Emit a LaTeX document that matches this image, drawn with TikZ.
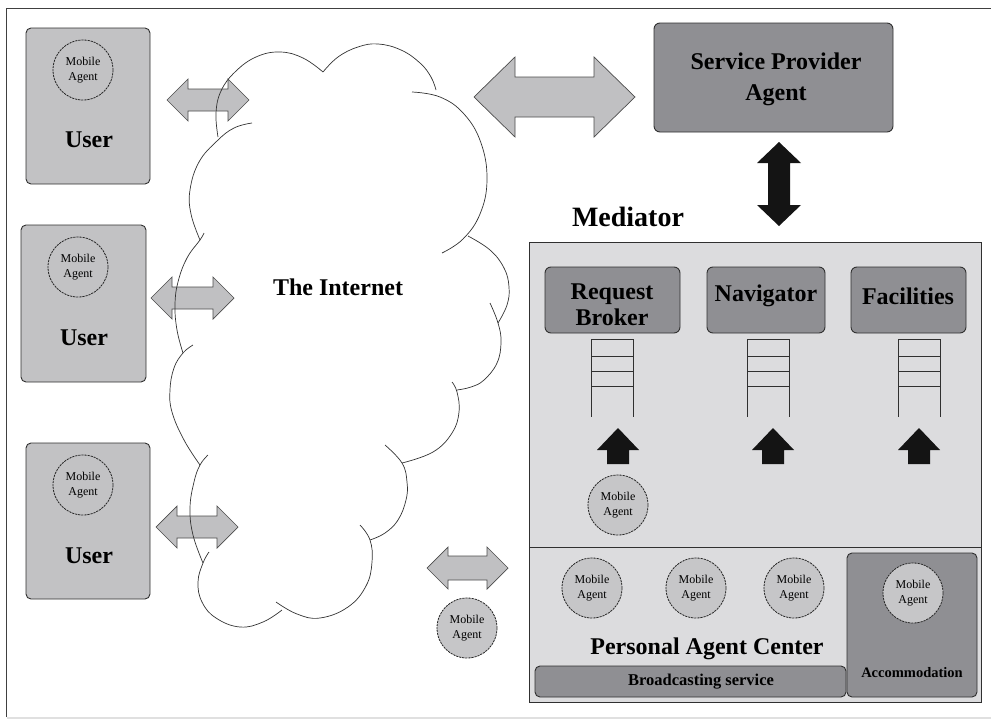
\documentclass[tikz,border=0pt]{standalone}
\usepackage{fontspec}
\setmainfont{Liberation Serif}
\definecolor{usergray}{HTML}{C2C2C4}
\definecolor{darkbox}{HTML}{8F8F93}
\definecolor{medbg}{HTML}{DCDCDE}
\definecolor{agentfill}{HTML}{C6C6C8}
\definecolor{arrowgray}{HTML}{C0C0C2}
\definecolor{lineclr}{HTML}{303030}
\newcommand{\HDArrow}[7]{%
 \draw[#1] (#2,#4) -- (#2+#5,#4-#6) -- (#2+#5,#4-#7) -- (#3-#5,#4-#7) -- (#3-#5,#4-#6) -- (#3,#4)
  -- (#3-#5,#4+#6) -- (#3-#5,#4+#7) -- (#2+#5,#4+#7) -- (#2+#5,#4+#6) -- cycle;}
\newcommand{\VDArrow}[7]{%
 \draw[#1] (#2,#3) -- (#2+#6,#3+#5) -- (#2+#7,#3+#5) -- (#2+#7,#4-#5) -- (#2+#6,#4-#5) -- (#2,#4)
  -- (#2-#6,#4-#5) -- (#2-#7,#4-#5) -- (#2-#7,#3+#5) -- (#2-#6,#3+#5) -- cycle;}
\newcommand{\UpArrow}[6]{%
 \fill[black!92] (#1,#2) -- (#1+#5,#3) -- (#1+#6,#3) -- (#1+#6,#4) -- (#1-#6,#4) -- (#1-#6,#3) -- (#1-#5,#3) -- cycle;}
\newcommand{\Ladder}[2]{%
 \draw[lineclr, line width=0.9pt] (#1,339) -- (#1,417) (#2,339) -- (#2,417)
  (#1,339) -- (#2,339) (#1,356) -- (#2,356) (#1,371) -- (#2,371) (#1,386) -- (#2,386);}
\tikzset{
 every node/.style={inner sep=0pt, outer sep=0pt},
 userbox/.style={draw=lineclr, line width=0.9pt, rounded corners=5pt, fill=usergray},
 darkboxst/.style={draw=lineclr, line width=0.9pt, rounded corners=6pt, fill=darkbox},
 magent/.style={circle, draw=black!85, dash pattern=on 2.2pt off 0.9pt, line width=0.8pt,
   minimum size=60pt, fill=agentfill, align=center, font=\fontsize{12}{15.5}\selectfont},
 biglabel/.style={font=\fontsize{24}{31}\selectfont\bfseries, align=center},
 grayarrow/.style={draw=black!70, line width=0.7pt, fill=arrowgray},
 blackarrow/.style={fill=black!92, draw=none},
 cloudline/.style={draw=black!80, line width=0.7pt},
}
\begin{document}
\begin{tikzpicture}[x=1pt,y=-1pt]
\useasboundingbox (0,0) rectangle (991,720);
% frame
\draw[black!75, line width=1pt] (6,717) -- (6,8) -- (991,8);
\draw[black!12, line width=2pt] (7,718) -- (991,718);

% users
\node[userbox, minimum width=124pt, minimum height=156pt] (user1) at (88,106) {};
\node[userbox, minimum width=125pt, minimum height=157pt] (user2) at (83.5,303.5) {};
\node[userbox, minimum width=124pt, minimum height=156pt] (user3) at (88,521) {};
\node[magent, fill=usergray] (ma1) at (83,70) {Mobile\\Agent};
\node[magent, fill=usergray] (ma2) at (78,267) {Mobile\\Agent};
\node[magent, fill=usergray] (ma3) at (83,485) {Mobile\\Agent};
\node[biglabel] (ut1) at (89,140) {User};
\node[biglabel] (ut2) at (84,338) {User};
\node[biglabel] (ut3) at (89,556) {User};

% gray double arrows
\HDArrow{grayarrow}{167}{249}{100}{21}{21}{11}
\HDArrow{grayarrow}{151}{234}{298}{21}{21}{11}
\HDArrow{grayarrow}{156}{238}{527}{21}{21}{11}
\HDArrow{grayarrow}{427}{508}{568}{21}{21}{12}
\HDArrow{grayarrow}{474}{635}{97}{41}{40}{20}

% cloud
\draw[cloudline] plot[smooth, tension=0.7] coordinates {(218,137) (216,113) (221,91) (235,72) (256,57) (280,52) (303,58) (323,72)};
\draw[cloudline] plot[smooth, tension=0.7] coordinates {(323,72) (338,57) (358,47) (378,44) (401,50) (420,63) (431,77) (436,90)};
\draw[cloudline] plot[smooth, tension=0.7] coordinates {(412,92) (440,97) (464,114) (481,143) (487,180) (480,214) (463,239) (442,253)};
\draw[cloudline] plot[smooth, tension=0.7] coordinates {(468,236) (490,250) (504,268) (509,287) (507,305) (498,323)};
\draw[cloudline] plot[smooth, tension=0.7] coordinates {(490,303) (498,323) (501,342) (497,363) (484,380) (471,387) (457,390)};
\draw[cloudline] plot[smooth, tension=0.7] coordinates {(452,382) (457,392) (459,412) (452,433) (433,452) (402,463)};
\draw[cloudline] plot[smooth, tension=0.7] coordinates {(385,445) (402,463) (407,482) (406,500) (398,520) (385,533) (370,540)};
\draw[cloudline] plot[smooth, tension=0.7] coordinates {(360,525) (370,540) (372,562) (366,586) (348,607) (320,618) (297,614) (276,602)};
\draw[cloudline] plot[smooth, tension=0.7] coordinates {(209,552) (203,563) (198,582) (202,602) (216,618) (240,627) (263,622) (282,610)};
\draw[cloudline] plot[smooth, tension=0.7] coordinates {(203,563) (193,535) (190,508) (194,482) (200,465) (208,455)};
\draw[cloudline] plot[smooth, tension=0.7] coordinates {(200,465) (184,440) (172,412) (170,390) (174,368) (183,353) (193,345)};
\draw[cloudline] plot[smooth, tension=0.7] coordinates {(183,353) (177,330) (175,305) (178,282) (187,258) (200,240) (204,233)};
\draw[cloudline] plot[smooth, tension=0.7] coordinates {(200,240) (191,214) (190,190) (199,162) (217,141) (234,128) (252,123)};
\node[biglabel] (internet) at (338,287) {The Internet};
\node[magent] (maout) at (467,628) {Mobile\\Agent};

% service provider
\node[darkboxst, minimum width=239pt, minimum height=109pt] (spa) at (773.5,77.5) {};
\node[biglabel] (spat) at (776,79) {Service Provider\\Agent};
\VDArrow{blackarrow}{779}{142}{226}{21}{22}{11}

% mediator
\node[font=\fontsize{28}{34}\selectfont\bfseries] (medt) at (628,217) {Mediator};
\node[draw=lineclr, line width=0.9pt, fill=medbg, minimum width=452pt, minimum height=460pt] (med) at (755,472) {};
\draw[lineclr, line width=0.9pt] (529,547) -- (981,547);

\node[darkboxst, minimum width=135pt, minimum height=66pt] (rb) at (612.5,300) {};
\node[darkboxst, minimum width=118pt, minimum height=66pt] (nav) at (766,300) {};
\node[darkboxst, minimum width=115pt, minimum height=66pt] (fac) at (908.5,300) {};
\node[biglabel, font=\fontsize{24}{26}\selectfont\bfseries] (rbt) at (612,305) {Request\\Broker};
\node[biglabel] (navt) at (766,296) {Navigator};
\node[biglabel] (fact) at (908,296) {Facilities};

\Ladder{591}{633}
\Ladder{747}{789}
\Ladder{898}{940}
\UpArrow{618}{428}{450}{464}{21}{11}
\UpArrow{773}{428}{450}{464}{21}{11}
\UpArrow{919}{428}{450}{464}{21}{11}

\node[magent] (mamed) at (618,505) {Mobile\\Agent};
\node[magent] (mab1) at (592,588) {Mobile\\Agent};
\node[magent] (mab2) at (696,588) {Mobile\\Agent};
\node[magent] (mab3) at (794,588) {Mobile\\Agent};
\node[biglabel] (pac) at (707,649) {Personal Agent Center};

\node[darkboxst, rounded corners=5pt, minimum width=311pt, minimum height=31pt] (bc) at (690.5,681.5) {};
\node[font=\fontsize{16.5}{20}\selectfont\bfseries] (bct) at (701,682) {Broadcasting service};
\node[darkboxst, rounded corners=5pt, minimum width=130pt, minimum height=144pt] (acc) at (912,625) {};
\node[magent] (maacc) at (913,593) {Mobile\\Agent};
\node[font=\fontsize{14.5}{18}\selectfont\bfseries] (acct) at (912,673) {Accommodation};
\end{tikzpicture}
\end{document}
